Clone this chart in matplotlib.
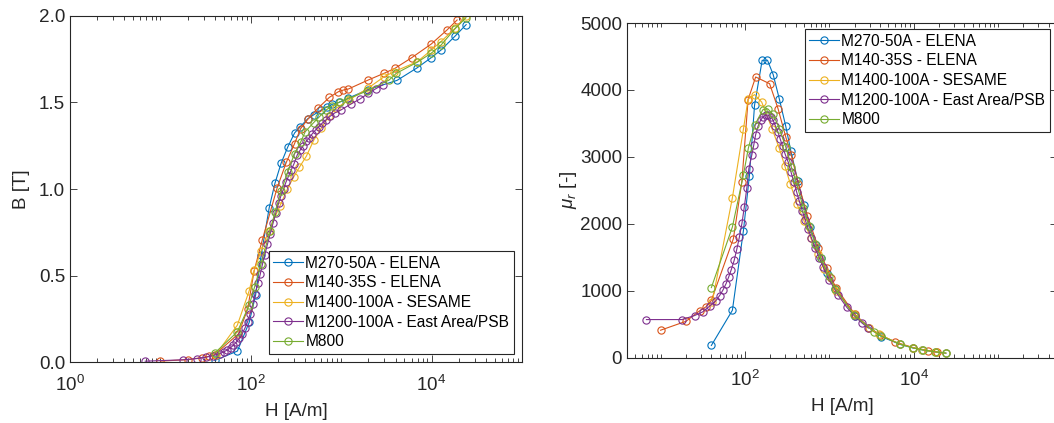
import matplotlib
matplotlib.use("Agg")
import matplotlib.pyplot as plt
from matplotlib.ticker import NullFormatter

plt.rcParams['font.family'] = ['Liberation Sans', 'DejaVu Sans']
plt.rcParams['mathtext.fontset'] = 'custom'
plt.rcParams['mathtext.it'] = 'Liberation Sans:italic'
plt.rcParams['mathtext.rm'] = 'Liberation Sans'

# --- data ---
labels = ["M270-50A - ELENA", "M140-35S - ELENA", "M1400-100A - SESAME",
          "M1200-100A - East Area/PSB", "M800"]
colors = ["#0072BD", "#D95319", "#EDB120", "#7E2F8E", "#77AC30"]

H_m270 = [40, 71, 96, 113, 130, 160, 185, 216, 256, 305, 350, 425, 500, 595,
          700, 800, 940, 1180, 2000, 4150, 6900, 9900, 12700, 18200, 24100]
B_m270 = [0.009, 0.063, 0.229, 0.386, 0.616, 0.893, 1.033, 1.148, 1.242, 1.324,
          1.358, 1.405, 1.43, 1.455, 1.475, 1.49, 1.50, 1.524, 1.575, 1.628,
          1.70, 1.759, 1.803, 1.884, 1.95]
mu_m270 = [180, 706, 1898, 2718, 3771, 4442, 4444, 4230, 3861, 3454, 3088, 2631,
           2276, 1946, 1677, 1482, 1270, 1028, 627, 312, 196, 141, 113, 82, 64]

H_m140 = [10, 20, 29, 34.5, 40, 73, 92, 109, 134, 196, 247, 305, 355, 430, 551,
          741, 931, 1057, 1200, 1990, 2985, 3945, 6026, 9910, 14860, 19150]
B_m140 = [0.0051, 0.0136, 0.0254, 0.0328, 0.043, 0.163, 0.304, 0.528, 0.706,
          1.008, 1.154, 1.263, 1.348, 1.405, 1.466, 1.53, 1.5625, 1.572, 1.578,
          1.63, 1.669, 1.698, 1.759, 1.838, 1.92, 1.977]
mu_m140 = [408, 541, 697, 757, 855, 1777, 2630, 3855, 4193, 4093, 3718, 3295,
           3022, 2600, 2117, 1643, 1336, 1184, 1046, 652, 445, 343, 232, 148,
           103, 82]

H_m1400 = [41, 71, 96, 109, 130, 158, 210, 254, 297, 345, 412, 500, 600, 728,
           877, 1210, 1958, 2985, 3845, 6950, 9910, 12680, 18200, 24100]
B_m1400 = [0.043, 0.213, 0.412, 0.529, 0.642, 0.758, 0.902, 1.00, 1.068, 1.126,
           1.19, 1.285, 1.35, 1.42, 1.466, 1.514, 1.581, 1.649, 1.678, 1.736,
           1.803, 1.852, 1.929, 2.0]
mu_m1400 = [835, 2388, 3415, 3862, 3930, 3818, 3418, 3133, 2862, 2597, 2299,
            2045, 1790, 1552, 1330, 996, 643, 440, 347, 199, 145, 116, 84, 66]

H_m1200 = [6.8, 17.9, 25.3, 31.6, 38.4, 45.1, 50.1, 54.7, 59.8, 64.2, 68.9,
           74.6, 80.1, 86.0, 92.3, 98.3, 105.4, 111.2, 120.4, 127.0, 133.9,
           142.6, 153.0, 164.2, 176.2, 189.2, 203.1, 216, 230, 245, 262, 280,
           300, 326, 352, 380, 410, 439, 480, 520, 565, 615, 680, 760, 850, 995,
           1268, 1610, 1995, 2420, 2900]
B_m1200 = [0.0048, 0.0128, 0.0199, 0.0271, 0.0372, 0.0479, 0.0583, 0.0691,
           0.083, 0.0971, 0.1138, 0.1362, 0.1629, 0.1947, 0.2332, 0.2779,
           0.3362, 0.3943, 0.457, 0.5059, 0.5603, 0.6189, 0.6814, 0.7424,
           0.8022, 0.8614, 0.9183, 0.9624, 1.0, 1.04, 1.075, 1.11, 1.145, 1.196,
           1.225, 1.25, 1.275, 1.293, 1.32, 1.341, 1.36, 1.38, 1.40, 1.422,
           1.44, 1.457, 1.49, 1.52, 1.553, 1.58, 1.603]
mu_m1200 = [567, 567, 627, 682, 771, 846, 926, 1005, 1105, 1204, 1314, 1453,
            1618, 1802, 2011, 2250, 2538, 2822, 3021, 3170, 3330, 3454, 3544,
            3598, 3623, 3623, 3598, 3544, 3460, 3378, 3265, 3155, 3037, 2920,
            2770, 2618, 2475, 2344, 2188, 2052, 1916, 1786, 1638, 1489, 1348,
            1165, 935, 751, 619, 520, 440]

H_m800 = [40, 71, 96, 110, 130, 163, 186, 216, 256, 305, 355, 400, 494, 575,
          681, 794, 980, 1178, 1954, 3390, 4074, 6950, 9910, 12770, 18070, 24000]
B_m800 = [0.0525, 0.174, 0.33, 0.433, 0.567, 0.758, 0.869, 0.986, 1.10, 1.205,
          1.27, 1.331, 1.383, 1.418, 1.457, 1.48, 1.505, 1.52, 1.568, 1.63,
          1.669, 1.733, 1.785, 1.833, 1.925, 1.99]
mu_m800 = [1045, 1951, 2732, 3135, 3469, 3703, 3718, 3633, 3419, 3145, 2847,
           2648, 2228, 1962, 1703, 1483, 1222, 1027, 639, 383, 326, 198, 143,
           114, 85, 66]

H_all = [H_m270, H_m140, H_m1400, H_m1200, H_m800]
B_all = [B_m270, B_m140, B_m1400, B_m1200, B_m800]
mu_all = [mu_m270, mu_m140, mu_m1400, mu_m1200, mu_m800]

W, Hpx = 1054, 423
fig = plt.figure(figsize=(W / 100, Hpx / 100), dpi=100)

def px_axes(x0, x1, ytop, ybot):
    return fig.add_axes([x0 / W, (Hpx - ybot) / Hpx, (x1 - x0) / W, (ybot - ytop) / Hpx])

ax1 = px_axes(70, 522, 16, 362)
ax2 = px_axes(627, 1057, 23, 357.5)

txt = "#262626"
for ax in (ax1, ax2):
    for h, b, mu, c, lab in zip(H_all, B_all, mu_all, colors, labels):
        y = b if ax is ax1 else mu
        ax.plot(h, y, '-o', color=c, lw=0.8, ms=5.2, mfc='none', mew=0.8, label=lab)
    ax.set_xscale('log')
    for s in ax.spines.values():
        s.set_color(txt)
        s.set_linewidth(0.8)
    ax.tick_params(which='both', direction='in', top=True, right=True,
                   colors=txt, labelsize=13.6, width=0.6)
    ax.tick_params(which='major', length=5)
    ax.tick_params(which='minor', length=3)
    ax.tick_params(axis='x', pad=9)
    ax.xaxis.set_minor_formatter(NullFormatter())
    ax.set_xlabel("H [A/m]", fontsize=13.6, color=txt, labelpad=6)

minor = [m * 10.0 ** k for k in range(-1, 7) for m in range(1, 10)]

ax1.set_xlim(1, 1e5)
ax1.set_ylim(0, 2)
ax1.set_xticks([1, 1e2, 1e4])
ax1.set_xticks([v for v in minor if 1 <= v <= 1e5 and v not in (1, 1e2, 1e4)], minor=True)
ax1.set_xticklabels(["$10^0$", "$10^2$", "$10^4$"])
ax1.set_yticks([0, 0.5, 1.0, 1.5, 2.0])
ax1.set_yticklabels(["0.0", "0.5", "1.0", "1.5", "2.0"])
ax1.set_ylabel("B [T]", fontsize=13.6, color=txt, labelpad=6)

ax2.set_xlim(10 ** 0.662, 10 ** 5.625)
ax2.set_ylim(0, 5000)
ax2.set_xticks([1e2, 1e4])
ax2.set_xticks([v for v in minor if 4 <= v <= 5e5 and v not in (1e2, 1e4)], minor=True)
ax2.set_xticklabels(["$10^2$", "$10^4$"])
ax2.set_yticks([0, 1000, 2000, 3000, 4000, 5000])
ax2.set_ylabel(r"$\mu_r$ [-]", fontsize=13.6, color=txt, labelpad=1)

leg_kw = dict(fontsize=11.2, handlelength=1.9, handletextpad=0.15, labelspacing=0.3,
              borderpad=0.3, borderaxespad=0, fancybox=False, framealpha=1,
              edgecolor=txt, markerscale=1.0)
l1 = ax1.legend(loc='lower right', bbox_to_anchor=(1 - 8 / 452, 8 / 346), **leg_kw)
l2 = ax2.legend(loc='upper right', bbox_to_anchor=((1050 - 627) / 430, 1 - 6 / 334.5), **leg_kw)
for l in (l1, l2):
    l.get_frame().set_linewidth(0.8)

fig.savefig("out.png", dpi=100)
